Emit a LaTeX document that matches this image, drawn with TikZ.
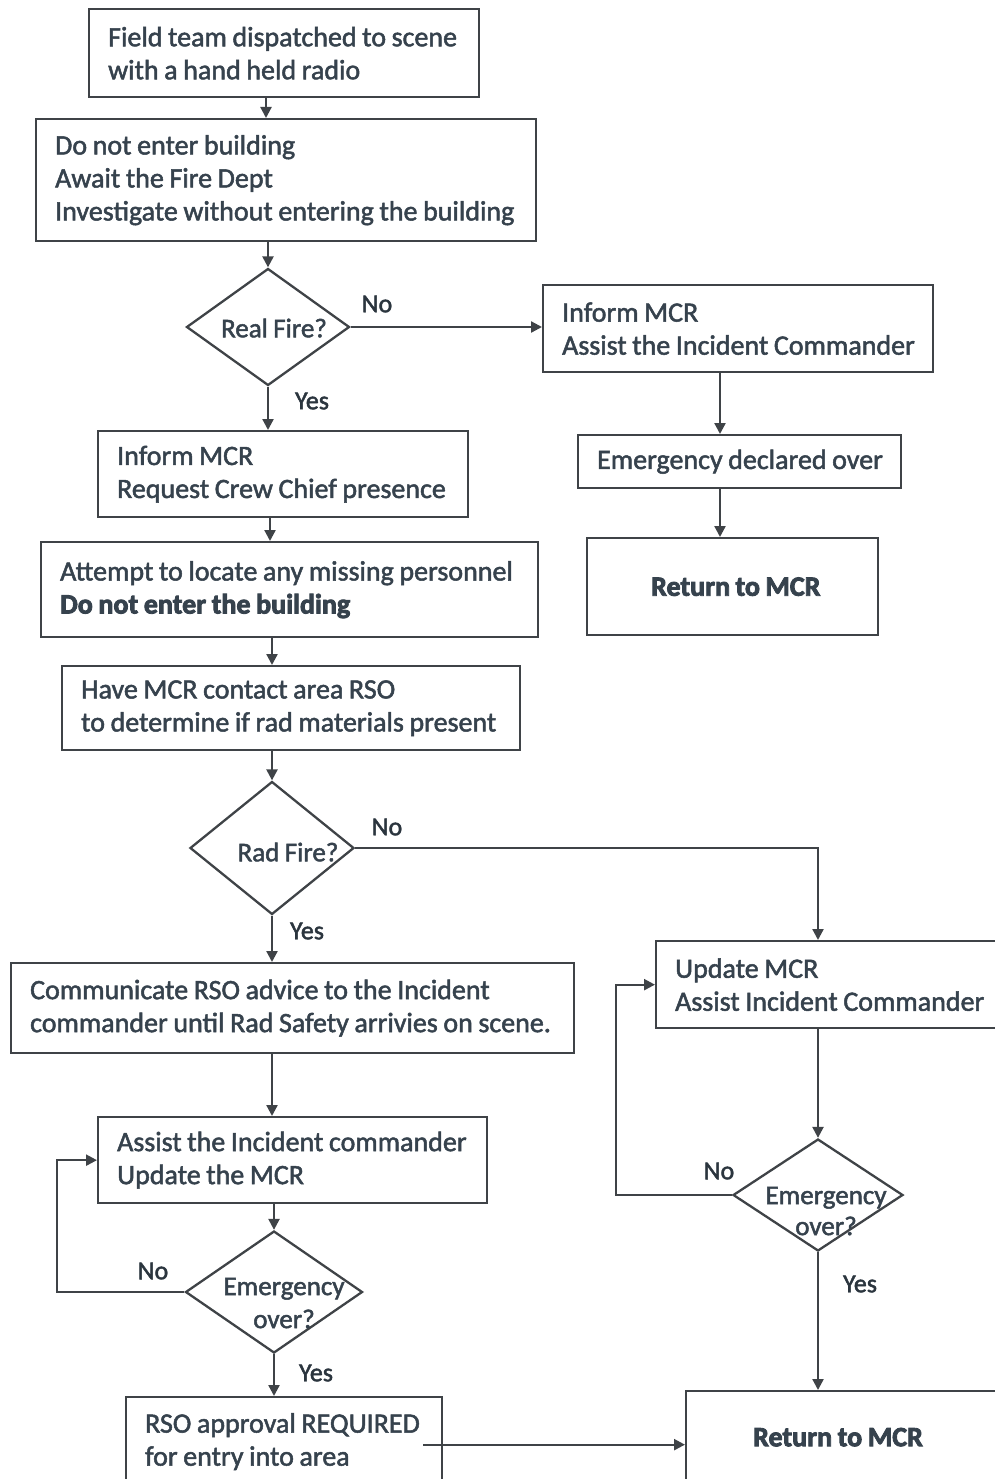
\documentclass[tikz,border=0pt]{standalone}
\usepackage{fontspec}
\setmainfont{Carlito}[FakeBold=1.8, BoldFeatures={FakeBold=3}]
\usetikzlibrary{arrows.meta,shapes.geometric}
\definecolor{ink}{HTML}{36424D}
\definecolor{lin}{HTML}{3F4347}
\tikzset{
  box/.style={draw=lin, line width=2.3pt, inner xsep=19pt, inner ysep=0pt, align=left, text=ink, anchor=north west,
    font=\fontsize{28}{33}\selectfont,
    execute at begin node={\spaceskip=0.2em plus 0.1em minus 0.05em\rightskip=0pt plus 1fil minus 40pt\hyphenpenalty=10000 }},
  dia/.style={draw=lin, line width=2.3pt, diamond, inner sep=0pt},
  dtext/.style={text=ink, align=center, font=\fontsize{27}{33}\selectfont,
    execute at begin node={\spaceskip=0.2em plus 0.1em}},
  lbl/.style={text=ink!80!black, font=\fontsize{26}{28}\selectfont},
  arr/.style={draw=lin, line width=2.3pt, -{Triangle[length=11pt,width=11pt]}},
}
\begin{document}
\begin{tikzpicture}[x=1pt,y=-1pt]
\useasboundingbox (0,0) rectangle (994,1479);
% left column boxes
\node[box, text width=352pt, minimum height=88pt] (b1) at (88,8) {Field team dispatched to scene\\with a hand held radio};
\node[box, text width=462pt, minimum height=122pt] (b2) at (35,118) {Do not enter building\\Await the Fire Dept\\Investigate without entering the building};
\node[dia, minimum width=163pt, minimum height=117pt] (d1) at (268,327) {};
\node[dtext] (d1t) at (274,328) {Real Fire?};
\node[box, text width=352pt, minimum height=87pt] (b4) at (542,284) {Inform MCR\\Assist the Incident Commander};
\node[box, text width=285pt, minimum height=53pt] (b5) at (577,434) {Emergency declared over};
\node[box, text width=163pt, inner xsep=64pt, minimum height=97pt] (b6) at (586,537) {\textbf{Return to MCR}};
\node[box, text width=332pt, minimum height=86pt] (b7) at (97,430) {Inform MCR\\Request Crew Chief presence};
\node[box, text width=459pt, minimum height=95pt] (b8) at (40,541) {Attempt to locate any missing personnel\\\textbf{Do not enter the building}};
\node[box, text width=420pt, minimum height=84pt] (b9) at (61,665) {Have MCR contact area RSO\\to determine if rad materials present};
\node[dia, minimum width=164pt, minimum height=133pt] (d2) at (272,848) {};
\node[dtext] (d2t) at (288,852) {Rad Fire?};
\node[box, text width=525pt, minimum height=90pt] (b11) at (10,962) {Communicate RSO advice to the Incident\\commander until Rad Safety arrivies on scene.};
\node[box, text width=351pt, minimum height=86pt] (b12) at (97,1116) {Assist the Incident commander\\Update the MCR};
\node[dia, minimum width=177pt, minimum height=122pt] (d3) at (274,1292) {};
\node[dtext] (d3t) at (284,1303) {Emergency\\over?};
\node[box, text width=278pt, minimum height=89pt] (b14) at (125,1396) {RSO approval REQUIRED\\for entry into area};
% right lower
\node[box, text width=320pt, minimum height=87pt] (b15) at (655,940) {Update MCR\\Assist Incident Commander};
\node[dia, minimum width=170pt, minimum height=112pt] (d4) at (818,1195) {};
\node[dtext, font=\fontsize{27}{31}\selectfont] (d4t) at (826,1211) {Emergency\\over?};
\node[box, text width=200pt, inner xsep=67pt, minimum height=92pt] (b17) at (685,1390) {\textbf{Return to MCR}};
% column coordinates
\coordinate (c266) at (266,0);
\coordinate (c270) at (270,0);
\coordinate (c272) at (272,0);
\coordinate (c720) at (720,0);
\coordinate (c57) at (57,0);
\coordinate (c616) at (616,0);
% connectors
\draw[arr] (b1.south -| c266) -- (b2.north -| c266);
\draw[arr] (b2.south -| d1) -- (d1.north);
\draw[arr] (d1.east) -- (d1.east -| b4.west);
\draw[arr] (d1.south) -- (b7.north -| d1);
\draw[arr] (b4.south -| c720) -- (b5.north -| c720);
\draw[arr] (b5.south -| c720) -- (b6.north -| c720);
\draw[arr] (b7.south -| c270) -- (b8.north -| c270);
\draw[arr] (b8.south -| c272) -- (b9.north -| c272);
\draw[arr] (b9.south -| d2) -- (d2.north);
\draw[arr] (d2.east) -| (b15.north -| d4);
\draw[arr] (d2.south) -- (b11.north -| d2);
\draw[arr] (b11.south -| c272) -- (b12.north -| c272);
\draw[arr] (b12.south -| d3) -- (d3.north);
\draw[arr] (d3.west) -- (d3.west -| c57) |- (b12.west);
\draw[arr] (d3.south) -- (b14.north -| d3);
\draw[arr] ([xshift=-20pt,yshift=-3pt]b14.east) -- ([yshift=-3pt]b14.east -| b17.west);
\draw[arr] (b15.south -| d4) -- (d4.north);
\draw[arr] (d4.west) -- (d4.west -| c616) |- (b15.west);
\draw[arr] (d4.south) -- (b17.north -| d4);
% labels
\node[lbl] (l1) at (377,304) {No};
\node[lbl] (l2) at (312,401) {Yes};
\node[lbl] (l3) at (387,827) {No};
\node[lbl] (l4) at (307,931) {Yes};
\node[lbl] (l5) at (153,1271) {No};
\node[lbl] (l6) at (316,1373) {Yes};
\node[lbl] (l7) at (719,1171) {No};
\node[lbl] (l8) at (860,1284) {Yes};
\end{tikzpicture}
\end{document}
